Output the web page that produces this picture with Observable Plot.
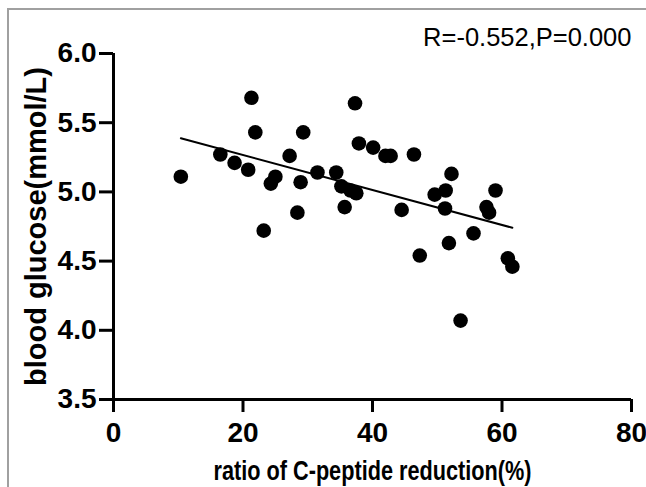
<!DOCTYPE html>
<html>
<head>
<meta charset="utf-8">
<script src="https://cdn.jsdelivr.net/npm/d3@7"></script>
<script src="https://cdn.jsdelivr.net/npm/@observablehq/plot@0.6"></script>
<style>
  html, body { margin: 0; padding: 0; background: #fff; }
  #wrap { position: relative; width: 646px; height: 487px; overflow: hidden; }
  #frame { position: absolute; left: 7px; top: 8px; right: -5px; bottom: -5px;
           border-top: 2px solid #a0a0a0; border-left: 2px solid #a0a0a0; }
  #chart { position: absolute; left: 0; top: 0; }
  svg { font-family: "Liberation Sans", Arial, sans-serif; }
  svg g[aria-label="x-axis tick"] path, svg g[aria-label="y-axis tick"] path { stroke-width: 3px; }
  svg g[aria-label="x-axis tick label"] text, svg g[aria-label="y-axis tick label"] text {
    font-size: 28px; font-weight: bold; fill: #000;
  }
</style>
</head>
<body>
<div id="wrap"><div id="frame"></div><div id="chart"></div></div>
<script>
const ratio = [10.4, 16.5, 18.7, 20.8, 21.3, 21.9, 23.2, 24.3, 25.0, 27.2, 28.4, 28.9, 29.3,
  31.5, 34.4, 35.2, 35.7, 36.6, 37.3, 37.5, 37.9, 40.1, 42.0, 42.8, 44.5, 46.4, 47.3,
  49.6, 51.3, 51.2, 51.8, 52.2, 53.6, 55.6, 57.6, 58.0, 59.0, 60.9, 61.6];
const glucose = [5.11, 5.27, 5.21, 5.16, 5.68, 5.43, 4.72, 5.06, 5.11, 5.26, 4.85, 5.07, 5.43,
  5.14, 5.14, 5.04, 4.89, 5.01, 5.64, 4.99, 5.35, 5.32, 5.26, 5.26, 4.87, 5.27, 4.54,
  4.98, 5.01, 4.88, 4.63, 5.13, 4.07, 4.70, 4.89, 4.85, 5.01, 4.52, 4.46];
const xTicks = [0, 20, 40, 60, 80];
const yTicks = [3.5, 4.0, 4.5, 5.0, 5.5, 6.0];
const xTitle = "ratio of C-peptide reduction(%)";
const yTitle = "blood glucose(mmol/L)";
const statText = "R=-0.552,P=0.000";

const data = ratio.map((r, i) => ({ratio: r, glucose: glucose[i]}));

const chart = Plot.plot({
  width: 646,
  height: 487,
  marginLeft: 113,
  marginRight: 15,
  marginTop: 53,
  marginBottom: 88,
  style: {background: "transparent", fontFamily: "'Liberation Sans', Arial, sans-serif"},
  x: {domain: [0, 80]},
  y: {domain: [3.5, 6.0]},
  marks: [
    Plot.axisX({ticks: xTicks, tickSize: 13, strokeWidth: 3, tickPadding: 10,
      fontSize: 28, fontWeight: "bold", fill: "black", label: null}),
    Plot.axisY({ticks: yTicks, tickSize: 14, strokeWidth: 3, tickPadding: 3,
      tickFormat: d3.format(".1f"),
      fontSize: 28, fontWeight: "bold", fill: "black", label: null}),
    Plot.ruleY([3.5], {stroke: "black", strokeWidth: 3}),
    Plot.ruleX([0], {stroke: "black", strokeWidth: 3}),
    Plot.linearRegressionY(data, {x: "ratio", y: "glucose", ci: 0, stroke: "black", strokeWidth: 2}),
    Plot.dot(data, {x: "ratio", y: "glucose", r: 7.3, fill: "black", stroke: "none"}),
    Plot.text([statText], {frameAnchor: "top-right", textAnchor: "end", lineAnchor: "middle", dy: -16, dx: 0, fontSize: 25.5, fill: "black"}),
    Plot.text([xTitle], {frameAnchor: "bottom", textAnchor: "middle", lineAnchor: "middle", dx: 0, dy: 72, fontSize: 27.5, fontWeight: "bold", fill: "black"}),
    Plot.text([yTitle], {frameAnchor: "left", textAnchor: "middle", lineAnchor: "middle", dx: -77, rotate: -90, fontSize: 29, fontWeight: "bold", fill: "black"})
  ]
});
document.getElementById("chart").appendChild(chart);
// narrow the x-axis title to the reference's condensed width
d3.select(chart).selectAll("text").filter(function() { return this.textContent === xTitle; })
  .attr("textLength", 318).attr("lengthAdjust", "spacingAndGlyphs");
</script>
</body>
</html>
